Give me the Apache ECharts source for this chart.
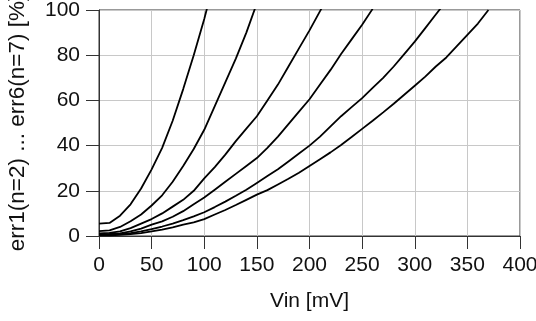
<!DOCTYPE html>
<html>
<head>
<meta charset="utf-8">
<title>err vs Vin</title>
<script src="https://cdn.jsdelivr.net/npm/echarts@6/dist/echarts.min.js"></script>
<style>
  html, body { margin: 0; padding: 0; background: #fff; }
  #chart { width: 536px; height: 321px; }
</style>
</head>
<body>
<div id="chart"></div>
<script>
// x axis ticks
var xTicks = [0, 50, 100, 150, 200, 250, 300, 350, 400];
var yTicks = [0, 20, 40, 60, 80, 100];

// Vin [mV], one list per curve
var vin1 = [0, 10, 20, 30, 40, 50, 60, 70, 80, 90, 100, 110];
var err1 = [5.5, 5.8, 9, 14, 21, 29.5, 39, 51, 65, 80, 96, 114];

var vin2 = [0, 10, 20, 30, 40, 50, 60, 70, 80, 90, 100, 110, 120, 130, 140, 150];
var err2 = [2.2, 2.5, 4, 6.5, 9.5, 13.5, 18, 24, 31, 38.5, 47, 57.5, 68, 78.5, 90, 103];

var vin3 = [0, 10, 20, 30, 40, 50, 60, 70, 80, 90, 100, 110, 120, 130, 140, 150, 160, 170, 180, 190, 200, 210, 220];
var err3 = [1.2, 1.4, 2, 3.5, 5.5, 7.5, 10, 13, 16, 20, 25.5, 30.5, 36, 42, 47.5, 53, 60, 67, 75, 83, 91, 99.5, 108];

var vin4 = [0, 10, 20, 30, 40, 50, 60, 70, 80, 90, 100, 110, 120, 130, 140, 150, 160, 170, 180, 190, 200, 210, 220, 230, 240, 250, 260];
var err4 = [0.8, 0.9, 1.2, 2, 3.3, 5, 6.5, 8.5, 11, 14, 17, 20.5, 24, 27.5, 31, 34.5, 39, 44, 49.5, 55, 60.5, 67, 73.5, 80.5, 87, 93.5, 100.5];

var vin5 = [0, 10, 20, 30, 40, 50, 60, 70, 80, 90, 100, 110, 120, 130, 140, 150, 160, 170, 180, 190, 200, 210, 220, 230, 240, 250, 260, 270, 280, 290, 300, 310, 320, 330];
var err5 = [0.5, 0.6, 0.8, 1.3, 2, 3, 4.2, 5.5, 7, 8.7, 10.5, 12.8, 15.2, 17.8, 20.5, 23.5, 26.5, 29.5, 33, 36.5, 40, 44, 48.5, 53, 57, 61, 65.5, 70, 75, 80.5, 86, 92, 98, 104];

var vin6 = [0, 10, 20, 30, 40, 50, 60, 70, 80, 90, 100, 110, 120, 130, 140, 150, 160, 170, 180, 190, 200, 210, 220, 230, 240, 250, 260, 270, 280, 290, 300, 310, 320, 330, 340, 350, 360, 370];
var err6 = [0.3, 0.3, 0.5, 0.8, 1.3, 2, 2.8, 3.8, 5, 6, 7.5, 9.5, 11.5, 13.7, 16, 18.3, 20.3, 22.8, 25.3, 28, 31, 34, 37, 40.3, 43.8, 47.4, 51, 54.7, 58.5, 62.5, 66.5, 70.5, 75, 79, 84, 89, 94, 100];

var curves = [
  { name: 'err1(n=2)', x: vin1, y: err1 },
  { name: 'err2(n=3)', x: vin2, y: err2 },
  { name: 'err3(n=4)', x: vin3, y: err3 },
  { name: 'err4(n=5)', x: vin4, y: err4 },
  { name: 'err5(n=6)', x: vin5, y: err5 },
  { name: 'err6(n=7)', x: vin6, y: err6 }
];

var font = 'Liberation Sans, Arial, sans-serif';

function pairs(xs, ys) {
  return xs.map(function (v, i) { return [v, ys[i]]; });
}

var chart = echarts.init(document.getElementById('chart'), null, { renderer: 'canvas' });

var option = {
  animation: false,
  backgroundColor: '#fff',
  grid: {
    left: 99,
    right: 16,
    top: 10,
    bottom: 85,
    // keep the plot box fixed, the y title may run off the top
    outerBoundsMode: 'none',
    containLabel: false,
    show: true,
    borderColor: '#333',
    borderWidth: 1
  },
  xAxis: {
    type: 'value',
    min: xTicks[0],
    max: xTicks[xTicks.length - 1],
    interval: 50,
    name: 'Vin [mV]',
    nameLocation: 'middle',
    nameGap: 55,
    nameTextStyle: { fontFamily: font, fontSize: 21, color: '#111' },
    axisLine: { show: true, onZero: false, lineStyle: { color: '#333', width: 1 } },
    axisTick: { show: true, inside: false, length: 13, lineStyle: { color: '#333' } },
    // margin counts from the axis line, so it includes the tick length
    axisLabel: { margin: 19, fontFamily: font, fontSize: 21, color: '#111' },
    splitLine: { show: true, lineStyle: { color: '#c8c8c8', width: 1 } }
  },
  yAxis: {
    type: 'value',
    min: yTicks[0],
    max: yTicks[yTicks.length - 1],
    interval: 20,
    name: 'err1(n=2) ... err6(n=7) [%]',
    nameLocation: 'middle',
    nameGap: 70,
    nameTextStyle: { fontFamily: font, fontSize: 22.5, color: '#111' },
    axisLine: { show: true, lineStyle: { color: '#333', width: 1 } },
    axisTick: { show: true, inside: false, length: 13, lineStyle: { color: '#333' } },
    axisLabel: { margin: 19, fontFamily: font, fontSize: 21, color: '#111' },
    splitLine: { show: true, lineStyle: { color: '#c8c8c8', width: 1 } }
  },
  series: curves.map(function (c) {
    return {
      name: c.name,
      type: 'line',
      data: pairs(c.x, c.y),
      showSymbol: false,
      clip: true,
      lineStyle: { color: '#000', width: 1.8 },
      z: 3
    };
  })
};

chart.setOption(option);
</script>
</body>
</html>
